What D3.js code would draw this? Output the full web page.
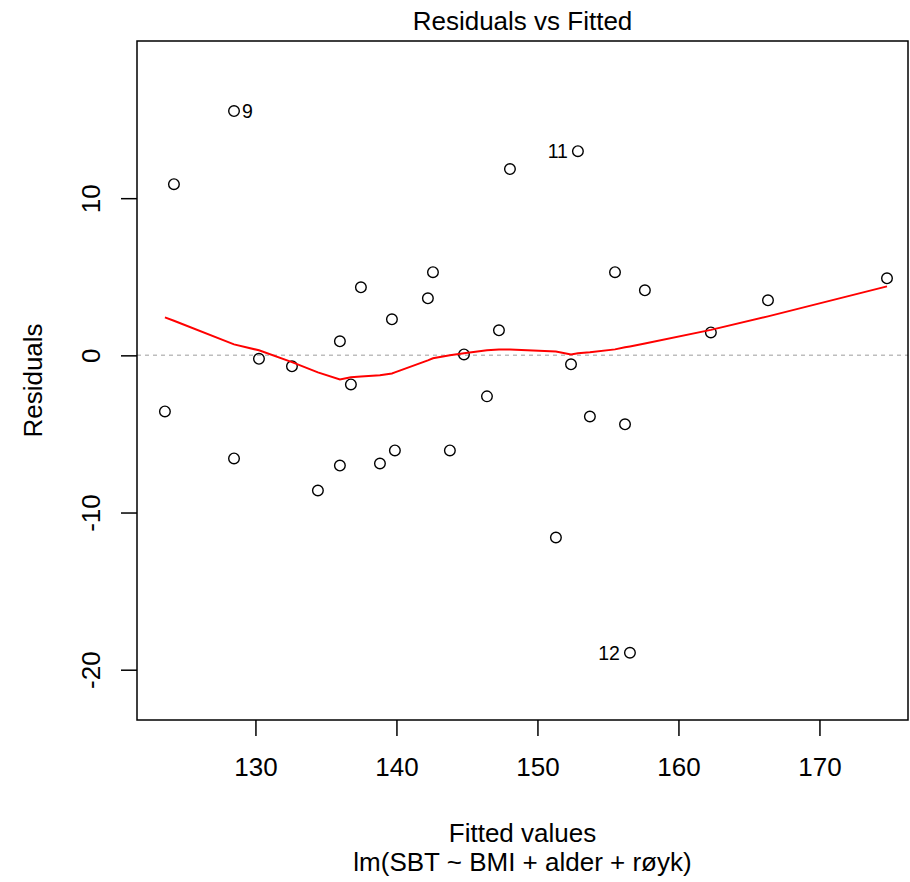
<!DOCTYPE html>
<html>
<head>
<meta charset="utf-8">
<script src="https://cdn.jsdelivr.net/npm/d3@7"></script>
<style>
    body { margin: 0; background: #fff; }
    text { font-family: "Liberation Sans", Arial, sans-serif; fill: #000; }
</style>
</head>
<body>
<script>

    // fitted values and residuals, sorted by fitted value
    const fitted = [123.58, 124.22, 128.48, 128.48, 130.25, 132.59, 134.43, 135.99, 135.99, 136.77,
        137.48, 138.83, 139.68, 139.89, 142.23, 142.59, 143.79, 144.79, 146.42, 147.27,
        148.05, 151.31, 152.38, 152.87, 153.72, 155.50, 156.21, 156.56, 157.62, 162.30,
        166.35, 174.79];
    const residuals = [-3.57, 10.89, 15.54, -6.56, -0.22, -0.70, -8.60, 0.89, -7.01, -1.85,
        4.33, -6.88, 2.29, -6.05, 3.63, 5.29, -6.05, 0.06, -2.61, 1.59,
        11.85, -11.59, -0.57, 12.99, -3.89, 5.29, -4.39, -18.92, 4.14, 1.46,
        3.50, 4.90];
    // lowess smooth evaluated at each fitted value
    const smooth = [2.42, 2.20, 0.70, 0.70, 0.32, -0.43, -1.08, -1.53, -1.53, -1.40,
        -1.34, -1.27, -1.15, -1.08, -0.32, -0.19, 0.00, 0.13, 0.32, 0.38,
        0.38, 0.25, 0.06, 0.13, 0.19, 0.38, 0.51, 0.57, 0.76, 1.62,
        2.48, 4.39];

    // labelled observations (index into the arrays above)
    const idLabels = ['9', '11', '12'];
    const idIndex = [2, 23, 27];

    const xTicks = [130, 140, 150, 160, 170];
    const yTicks = [-20, -10, 0, 10];

    const title = 'Residuals vs Fitted';
    const xLabel = 'Fitted values';
    const yLabel = 'Residuals';
    const subCaption = 'lm(SBT ~ BMI + alder + røyk)';

    const measurements = {
        width: 910,
        height: 882,
        left: 137,
        right: 908,
        top: 41,
        bottom: 720
    };

    const svg = d3.select('body')
        .append('svg')
        .attr('width', measurements.width)
        .attr('height', measurements.height);

    const x = d3.scaleLinear()
        .domain([121.6, 176.28])
        .range([measurements.left, measurements.right]);

    const y = d3.scaleLinear()
        .domain([-23.2, 20.0])
        .range([measurements.bottom, measurements.top]);

    const midX = (measurements.left + measurements.right) / 2;
    const midY = (measurements.top + measurements.bottom) / 2;

    // zero reference line
    svg.append('line')
        .attr('x1', measurements.left)
        .attr('x2', measurements.right)
        .attr('y1', y(0))
        .attr('y2', y(0))
        .attr('stroke', '#bdbdbd')
        .attr('stroke-width', 1.5)
        .attr('stroke-dasharray', '4,4');

    // points
    svg.append('g').selectAll('circle')
        .data(fitted)
        .enter()
        .append('circle')
        .attr('cx', d => x(d))
        .attr('cy', (d, i) => y(residuals[i]))
        .attr('r', 5.3)
        .attr('fill', 'none')
        .attr('stroke', '#000')
        .attr('stroke-width', 1.4);

    // smoother
    const line = d3.line()
        .x(d => x(d))
        .y((d, i) => y(smooth[i]));

    svg.append('path')
        .datum(fitted)
        .attr('d', line)
        .attr('fill', 'none')
        .attr('stroke', '#ff0000')
        .attr('stroke-width', 2);

    // id labels, right of point on the left half, left of point on the right half
    const xMid = (d3.min(fitted) + d3.max(fitted)) / 2;
    svg.append('g').selectAll('text')
        .data(idIndex)
        .enter()
        .append('text')
        .attr('x', d => fitted[d] < xMid ? x(fitted[d]) + 8 : x(fitted[d]) - 10)
        .attr('y', d => y(residuals[d]))
        .attr('dy', '0.36em')
        .attr('text-anchor', d => fitted[d] < xMid ? 'start' : 'end')
        .style('font-size', '19.5px')
        .text((d, i) => idLabels[i]);

    // plain hyphen for negatives, like R
    const fmt = d => String(d);

    // x axis
    svg.append('g')
        .attr('transform', 'translate(0,' + measurements.bottom + ')')
        .call(d3.axisBottom(x).tickValues(xTicks).tickFormat(fmt).tickSize(16).tickPadding(22))
        .call(g => g.select('.domain').remove())
        .call(g => g.selectAll('line').attr('stroke', '#000').attr('stroke-width', 1.5))
        .call(g => g.selectAll('text').style('font-size', '26px').attr('font-family', null));

    // y axis, labels parallel to the axis
    svg.append('g')
        .attr('transform', 'translate(' + measurements.left + ',0)')
        .call(d3.axisLeft(y).tickValues(yTicks).tickFormat(fmt).tickSize(16))
        .call(g => g.select('.domain').remove())
        .call(g => g.selectAll('line').attr('stroke', '#000').attr('stroke-width', 1.5))
        .call(g => g.selectAll('text')
            .attr('x', null)
            .attr('dy', null)
            .attr('text-anchor', 'middle')
            .attr('transform', 'translate(-37,0) rotate(-90)')
            .style('font-size', '26px')
            .attr('font-family', null));

    // box
    svg.append('rect')
        .attr('x', measurements.left)
        .attr('y', measurements.top)
        .attr('width', measurements.right - measurements.left)
        .attr('height', measurements.bottom - measurements.top)
        .attr('fill', 'none')
        .attr('stroke', '#000')
        .attr('stroke-width', 1.5);

    // titles
    svg.append('text')
        .attr('x', midX)
        .attr('y', 30)
        .attr('text-anchor', 'middle')
        .style('font-size', '26px')
        .text(title);

    svg.append('text')
        .attr('x', midX)
        .attr('y', 842)
        .attr('text-anchor', 'middle')
        .style('font-size', '26px')
        .text(xLabel);

    svg.append('text')
        .attr('x', midX)
        .attr('y', 871)
        .attr('text-anchor', 'middle')
        .style('font-size', '26px')
        .text(subCaption);

    svg.append('text')
        .attr('transform', 'translate(42,' + midY + ') rotate(-90)')
        .attr('text-anchor', 'middle')
        .style('font-size', '26px')
        .text(yLabel);

</script>
</body>
</html>
